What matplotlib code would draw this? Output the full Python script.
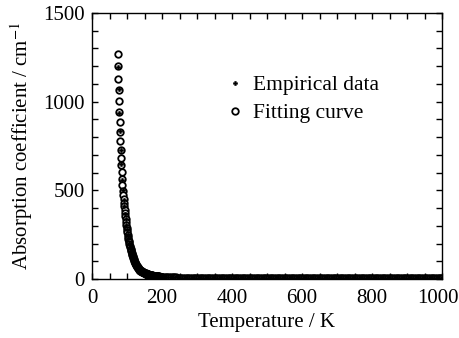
import matplotlib
matplotlib.use("Agg")
import matplotlib.pyplot as plt
import matplotlib.transforms as mtransforms
import numpy as np
from matplotlib.ticker import MultipleLocator

plt.rcParams['font.family'] = ['Liberation Serif', 'DejaVu Serif']
plt.rcParams['mathtext.fontset'] = 'stix'

# ---------------- Fitting curve (open circles) ----------------
# sampling temperatures: 1 K steps from 73 K to 200 K, then 5 K steps to 1000 K
fit_T = list(np.arange(73, 201, 1)) + list(np.arange(205, 1001, 5))
fit_A = [
    # 73 - 136 K
    1268, 1200, 1130, 1064, 1002, 940, 883, 828, 778, 730,
    684, 642, 603, 565, 531, 498, 474, 451, 429, 409,
    390, 371, 353, 336, 320, 305, 290, 276, 263, 250,
    238, 227, 217, 207, 197, 188, 180, 171, 164, 156,
    149, 142, 136, 129, 123, 118, 112, 107, 102, 98,
    93, 89, 85, 81, 77, 74, 70, 67, 64, 61,
    58, 55, 53, 50,
    # 137 - 170 K
    49, 47.7, 46.4, 45.2, 44, 42.8, 41.7, 40.5, 39.5, 38.4,
    37.4, 36.4, 35.4, 34.5, 33.6, 32.7, 31.8, 31, 30.1, 29.3,
    28.6, 27.8, 27.1, 26.3, 25.6, 25, 24.3, 23.7, 23, 22.4,
    21.8, 21.2, 20.7, 20.1,
    # 171 - 200 K
    19.8, 19.4, 19.1, 18.8, 18.4, 18.1, 17.8, 17.5, 17.2, 16.9,
    16.6, 16.3, 16.1, 15.8, 15.5, 15.3, 15.0, 14.8, 14.5, 14.3,
    14.0, 13.8, 13.6, 13.3, 13.1, 12.9, 12.7, 12.5, 12.2, 12.0,
    # 205 - 300 K
    11.5, 11.0, 10.5, 10.0, 9.6, 9.2, 8.9, 8.6, 8.3, 8.0,
    7.8, 7.6, 7.4, 7.2, 7.0, 6.9, 6.8, 6.7, 6.6, 6.5,
    # 305 - 1000 K
    6.5, 6.5, 6.5, 6.5, 6.5, 6.4, 6.4, 6.4, 6.4, 6.4,
    6.4, 6.4, 6.4, 6.4, 6.4, 6.3, 6.3, 6.3, 6.3, 6.3,
    6.3, 6.3, 6.3, 6.3, 6.3, 6.3, 6.3, 6.3, 6.3, 6.3,
    6.2, 6.2, 6.2, 6.2, 6.2, 6.2, 6.2, 6.2, 6.2, 6.2,
    6.2, 6.2, 6.2, 6.2, 6.2, 6.2, 6.2, 6.2, 6.2, 6.2,
    6.1, 6.1, 6.1, 6.1, 6.1, 6.1, 6.1, 6.1, 6.1, 6.1,
    6.1, 6.1, 6.1, 6.1, 6.1, 6.1, 6.1, 6.1, 6.1, 6.1,
    6.1, 6.1, 6.1, 6.1, 6.1, 6.1, 6.1, 6.1, 6.1, 6.1,
    6.0, 6.0, 6.0, 6.0, 6.0, 6.0, 6.0, 6.0, 6.0, 6.0,
    6.0, 6.0, 6.0, 6.0, 6.0, 6.0, 6.0, 6.0, 6.0, 6.0,
    6.0, 6.0, 6.0, 6.0, 6.0, 6.0, 6.0, 6.0, 6.0, 6.0,
    6.0, 6.0, 6.0, 6.0, 6.0, 6.0, 6.0, 6.0, 6.0, 6.0,
    6.0, 6.0, 6.0, 6.0, 6.0, 6.0, 6.0, 6.0, 6.0, 6.0,
    6.0, 6.0, 6.0, 6.0, 6.0, 6.0, 6.0, 6.0, 6.0, 6.0,
]

# ---------------- Empirical data (small filled markers) ----------------
# measured every 2 K from 74 K to 200 K, then every 10 K
emp_T = list(np.arange(74, 201, 2)) + list(np.arange(207.5, 1000, 10))
emp_A = [
    # 74 - 200 K
    1195, 1070, 935, 832, 726, 646, 561, 502, 448, 412,
    368, 339, 302, 279, 247, 229, 205, 190, 169, 158,
    140, 131, 116, 109, 96, 90, 80, 75, 66, 62,
    54, 51, 47, 46, 42, 41, 38, 37, 34, 33,
    30.5, 29.5, 27.5, 26.5, 24.7, 23.9, 22.1, 21.4, 19.9, 19.6,
    18.6, 18.3, 17.3, 17.0, 16.1, 15.9, 15.1, 14.9, 14.2, 13.9,
    13.2, 13.0, 12.4, 12.1,
    # 207.5 - 997.5 K
    11.2, 10.2, 9.4, 8.8, 8.2, 7.7, 7.3, 7.0, 6.8, 6.6,
    6.5, 6.5, 6.4, 6.4, 6.4, 6.3, 6.3, 6.3, 6.3, 6.2,
    6.2, 6.2, 6.2, 6.2, 6.2, 6.1, 6.1, 6.1, 6.1, 6.1,
    6.1, 6.1, 6.1, 6.1, 6.0, 6.0, 6.0, 6.0, 6.0, 6.0,
    6.0, 6.0, 6.0, 6.0, 6.0, 6.0, 6.0, 6.0, 6.0, 6.0,
    6.0, 6.0, 6.0, 6.0, 6.0, 6.0, 6.0, 6.0, 6.0, 6.0,
    6.0, 6.0, 6.0, 6.0, 6.0, 6.0, 6.0, 6.0, 6.0, 6.0,
    6.0, 6.0, 6.0, 6.0, 6.0, 6.0, 6.0, 6.0, 6.0, 6.0,
]

x_ticks = [0, 200, 400, 600, 800, 1000]
y_ticks = [0, 500, 1000, 1500]

fig = plt.figure(figsize=(4.59, 3.38), dpi=100)
ax = fig.add_axes([92 / 459, 1 - 279 / 338, 350 / 459, 266 / 338])

ax.plot(fit_T, fit_A, linestyle='none', marker='o', markersize=4.7,
        markerfacecolor='white', markeredgecolor='black', markeredgewidth=1.3,
        label='Fitting curve', zorder=2)
ax.plot(emp_T, emp_A, linestyle='none', marker='P', markersize=3.2,
        color='black', markeredgewidth=0.3, label='Empirical data', zorder=3)

ax.set_xlim(0, 1000)
ax.set_ylim(0, 1500)
ax.set_xticks(x_ticks)
ax.set_yticks(y_ticks)
ax.xaxis.set_minor_locator(MultipleLocator(50))
ax.yaxis.set_minor_locator(MultipleLocator(100))
ax.tick_params(which='both', direction='in', top=True, right=True,
               labelsize=15, width=1.0)
ax.tick_params(which='major', length=4)
ax.tick_params(which='minor', length=4)
ax.tick_params(axis='x', pad=7)
ax.tick_params(axis='y', pad=5)
for s in ax.spines.values():
    s.set_linewidth(1.0)

# nudge the last x tick label slightly left so it stays inside the figure
last = ax.get_xticklabels()[-1]
last.set_transform(last.get_transform() +
                   mtransforms.ScaledTranslation(-4 / 100, 0, fig.dpi_scale_trans))

ax.set_xlabel('Temperature / K', fontsize=15, labelpad=4)
ax.set_ylabel('Absorption coefficient / cm$^{-1}$', fontsize=15, labelpad=6)

h, l = ax.get_legend_handles_labels()
leg = ax.legend([h[1], h[0]], [l[1], l[0]], loc='upper left',
                bbox_to_anchor=(0.378, 0.766), frameon=False, fontsize=15.5,
                handlelength=1.0, handletextpad=0.34, labelspacing=0.37,
                borderpad=0.0, borderaxespad=0.0)

fig.savefig('out.png', dpi=100)
